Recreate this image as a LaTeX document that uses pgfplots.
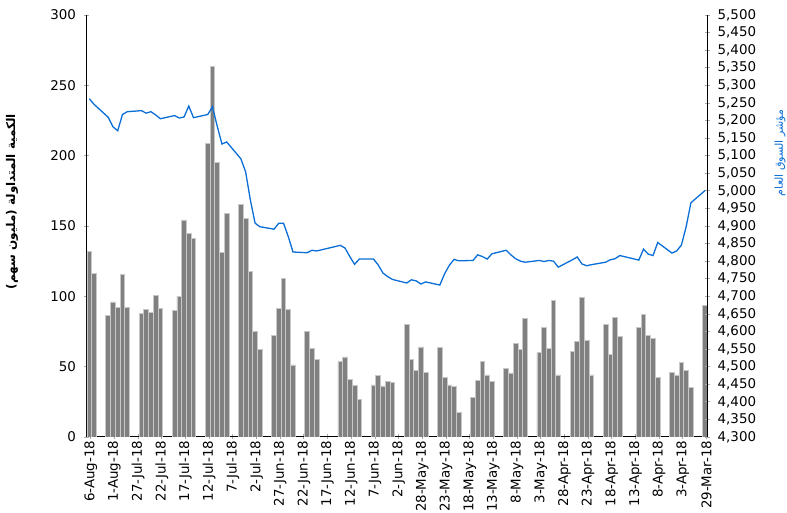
\documentclass[border=0pt]{standalone}
\usepackage{pgfplots}
\pgfplotsset{compat=1.18}
\usepackage{pgfplotstable}
\usepackage{fontspec}
\setmainfont{DejaVu Sans}
\newfontfamily\arabicfont[Script=Arabic]{DejaVu Sans}
\TeXXeTstate=1
\definecolor{barfill}{RGB}{128,128,128}
\definecolor{baredge}{RGB}{200,200,200}
\definecolor{idxblue}{RGB}{10,110,215}
\definecolor{tickgray}{RGB}{170,170,170}

\pgfplotstableread{
t v
0 131.7
1 116.4
4 86.5
5 96.0
6 92.2
7 115.7
8 91.9
11 87.9
12 90.8
13 88.6
14 100.4
15 91.5
18 90.1
19 100.2
20 154.3
21 144.8
22 141.3
25 208.8
26 263.5
27 195.3
28 131.3
29 159.2
32 165.6
33 155.5
34 118.0
35 75.1
36 62.3
39 72.0
40 91.7
41 112.8
42 90.8
43 51.2
46 74.9
47 63.1
48 55.2
53 53.5
54 56.9
55 41.0
56 36.8
57 26.8
60 37.0
61 43.9
62 36.3
63 39.6
64 38.6
67 80.1
68 55.2
69 47.6
70 64.0
71 46.0
74 63.8
75 42.4
76 37.0
77 36.0
78 17.6
81 28.2
82 40.3
83 53.5
84 44.1
85 39.6
88 48.8
89 45.5
90 66.6
91 62.3
92 84.4
95 59.9
96 78.0
97 63.1
98 97.2
99 44.1
102 61.1
103 68.0
104 99.3
105 68.7
106 44.1
109 80.1
110 58.8
111 85.1
112 71.6
116 78.0
117 87.4
118 72.5
119 70.2
120 42.4
123 46.0
124 44.1
125 53.1
126 47.4
127 35.3
130 93.3
}\volumedata

\pgfplotstableread{
t v
0 5262
1 5246
4 5209
5 5182
6 5171
7 5217
8 5225
11 5228
12 5221
13 5225
14 5216
15 5205
18 5214
19 5207
20 5210
21 5241
22 5208
25 5217
26 5239
27 5184
28 5133
29 5139
32 5091
33 5054
34 4974
35 4908
36 4898
39 4891
40 4908
41 4908
42 4870
43 4826
46 4824
47 4831
48 4829
53 4845
54 4837
55 4813
56 4791
57 4806
60 4806
61 4789
62 4766
63 4756
64 4748
67 4738
68 4747
69 4744
70 4735
71 4741
74 4732
75 4764
76 4788
77 4805
78 4801
81 4802
82 4818
83 4813
84 4806
85 4821
88 4831
89 4818
90 4807
91 4800
92 4797
95 4802
96 4799
97 4802
98 4800
99 4783
102 4804
103 4812
104 4792
105 4787
106 4790
109 4797
110 4804
111 4807
112 4816
116 4803
117 4834
118 4820
119 4816
120 4853
123 4823
124 4829
125 4846
126 4898
127 4966
130 5001
}\indexdata

\begin{document}
\begin{tikzpicture}
\path[use as bounding box] (-86.7pt,-76pt) rectangle (700.3pt,437pt);
\pgfplotsset{
  common/.style={
    width=620.3pt, height=422pt, scale only axis,
    xmin=-0.55, xmax=130.4,
    font=\fontsize{13.4}{15}\selectfont,
    /pgf/number format/assume math mode=true,
    tick style={tickgray, line width=0.8pt},
    major tick length=5pt,
    tick align=outside,
    axis line style={black, line width=1pt},
  }
}
\begin{axis}[common,
  axis x line=bottom, axis y line=left,
  axis line style={-},
  ymin=0, ymax=300, ytick={0,50,...,300},
  xtick={0.3,5.3,...,130.3},
  xticklabels={6-Aug-18,1-Aug-18,27-Jul-18,22-Jul-18,17-Jul-18,12-Jul-18,7-Jul-18,2-Jul-18,27-Jun-18,22-Jun-18,17-Jun-18,12-Jun-18,7-Jun-18,2-Jun-18,28-May-18,23-May-18,18-May-18,13-May-18,8-May-18,3-May-18,28-Apr-18,23-Apr-18,18-Apr-18,13-Apr-18,8-Apr-18,3-Apr-18,29-Mar-18},
  xticklabel style={rotate=90, anchor=east, inner sep=1pt},
  yticklabel style={inner sep=2pt, xshift=-6pt},
  ylabel={\arabicfont\bfseries\fontsize{12}{14}\selectfont\beginR الكمية المتداولة (مليون سهم)\endR},
  ylabel style={at={(axis description cs:-0.1204,0.558)}, anchor=center},
]
\addplot[ybar, bar width=1, fill=barfill, draw=baredge, line width=0.8pt] table[x=t,y=v]{\volumedata};
\end{axis}
\begin{axis}[common,
  axis x line=none, axis y line=right,
  axis line style={-},
  ymin=4300, ymax=5500, ytick={4300,4350,...,5500},
  scaled y ticks=false,
  /pgf/number format/fixed, /pgf/number format/precision=0,
  /pgf/number format/1000 sep={,},
  yticklabel style={inner sep=2pt, xshift=6pt},
  ylabel={\arabicfont\fontsize{11}{13}\selectfont\color{idxblue}\beginR مؤشر السوق العام\endR},
  ylabel style={at={(axis description cs:1.1177,0.673)}, anchor=center},
]
\addplot[idxblue, line width=1.3pt, no marks, sharp plot] table[x=t,y=v]{\indexdata};
\end{axis}
\end{tikzpicture}
\end{document}
